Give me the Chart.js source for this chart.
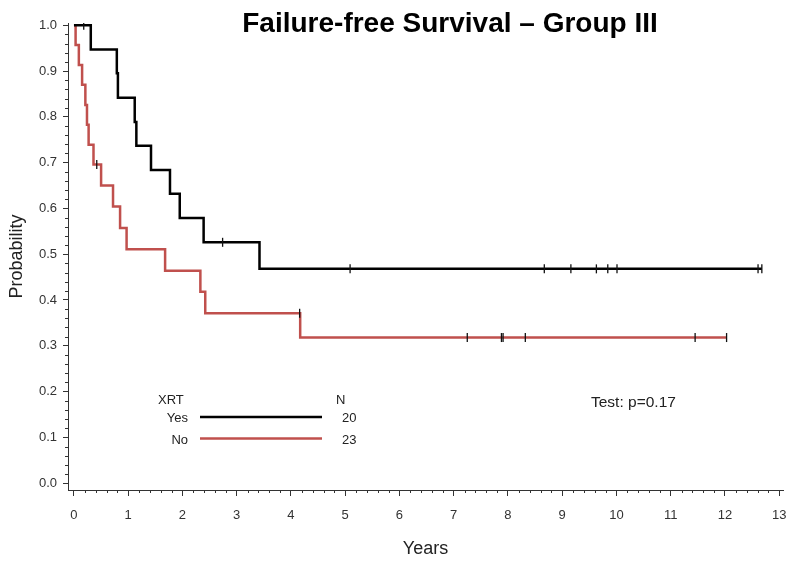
<!DOCTYPE html>
<html>
<head>
<meta charset="utf-8">
<script src="https://cdn.jsdelivr.net/npm/chart.js@4.4.1/dist/chart.umd.min.js"></script>
<style>
  body { margin: 0; background: #fff; }
</style>
</head>
<body>
<canvas id="km" width="800" height="570"></canvas>
<script>
// Kaplan-Meier
const yesTimes = [0, 0.31, 0.79, 0.81, 1.12, 1.15, 1.42, 1.77, 1.95, 2.39, 3.42, 12.68];
const yesSurv  = [1, 0.947, 0.895, 0.842, 0.789, 0.737, 0.684, 0.632, 0.579, 0.526, 0.468, 0.468];
const yesCensored = [0.18, 2.74, 5.09, 8.67, 9.16, 9.63, 9.84, 10.01, 12.61, 12.68];

const noTimes = [0, 0.03, 0.09, 0.15, 0.21, 0.24, 0.27, 0.36, 0.50, 0.72, 0.85, 0.97, 1.68, 2.33, 2.42, 4.17, 12.03];
const noSurv  = [1, 0.957, 0.913, 0.870, 0.826, 0.783, 0.739, 0.696, 0.650, 0.604, 0.557, 0.511, 0.464, 0.418, 0.371, 0.318, 0.318];
const noCensored = [0.42, 4.16, 7.25, 7.88, 7.91, 8.32, 11.45, 12.03];

const xTicks = [0, 1, 2, 3, 4, 5, 6, 7, 8, 9, 10, 11, 12, 13];
const yTicks = [0, 0.1, 0.2, 0.3, 0.4, 0.5, 0.6, 0.7, 0.8, 0.9, 1.0];

const groups = ['Yes', 'No'];
const groupN = [20, 23];

const FONT = '"Liberation Sans", Arial, sans-serif';
const RED = '#c0504d';

function toPoints(times, surv) {
    return times.map((t, i) => ({x: t, y: surv[i]}));
}

// survival level at a censor time (step function)
function censorPoints(cens, times, surv) {
    return cens.map(t => {
        let s = surv[0];
        times.forEach((tt, i) => { if (tt <= t) s = surv[i]; });
        return {x: t, y: s};
    });
}

// title, legend table, p-value, minor ticks
const decor = {
    id: 'decor',
    afterDraw(chart) {
        const c = chart.ctx;
        const xs = chart.scales.x, ys = chart.scales.y;
        c.save();

        // minor ticks
        c.strokeStyle = '#333';
        c.lineWidth = 1;
        c.beginPath();
        for (let i = 0; i <= 65; i++) {
            if (i % 5 === 0) continue;
            const px = Math.round(xs.getPixelForValue(i * 0.2)) + 0.5;
            c.moveTo(px, xs.top);
            c.lineTo(px, xs.top + 3);
        }
        for (let i = 0; i <= 50; i++) {
            if (i % 5 === 0) continue;
            const py = Math.round(ys.getPixelForValue(i * 0.02)) + 0.5;
            c.moveTo(ys.right, py);
            c.lineTo(ys.right - 3, py);
        }
        c.stroke();

        // title
        c.fillStyle = '#000';
        c.font = 'bold 28px ' + FONT;
        c.textAlign = 'center';
        c.textBaseline = 'alphabetic';
        c.fillText('Failure-free Survival \u2013 Group III', 450, 32);

        // legend table
        c.fillStyle = '#222';
        c.font = '13px ' + FONT;
        c.textAlign = 'left';
        c.fillText('XRT', 158, 404);
        c.fillText('N', 336, 404);
        const colors = ['#000', RED];
        groups.forEach((g, i) => {
            const y = 417 + i * 21.5;
            c.textAlign = 'right';
            c.fillStyle = '#222';
            c.fillText(g, 188, y + 5);
            c.textAlign = 'left';
            c.fillText(String(groupN[i]), 342, y + 5);
            c.strokeStyle = colors[i];
            c.lineWidth = 2.5;
            c.beginPath();
            c.moveTo(200, y);
            c.lineTo(322, y);
            c.stroke();
        });

        c.font = '15.5px ' + FONT;
        c.fillStyle = '#222';
        c.textAlign = 'left';
        c.fillText('Test: p=0.17', 591, 407);
        c.restore();
    }
};

const censorStyle = {
    type: 'scatter',
    pointStyle: 'line',
    rotation: 90,
    pointRadius: 4.5,
    pointBorderWidth: 1.3,
    borderColor: '#111',
    pointBorderColor: '#111',
    showLine: false
};

new Chart(document.getElementById('km'), {
    type: 'line',
    data: {
        datasets: [
            Object.assign({label: 'Yes censored', data: censorPoints(yesCensored, yesTimes, yesSurv)}, censorStyle),
            Object.assign({label: 'No censored', data: censorPoints(noCensored, noTimes, noSurv)}, censorStyle),
            {
                label: groups[0],
                data: toPoints(yesTimes, yesSurv),
                stepped: true,
                borderColor: '#000',
                borderWidth: 2.5,
                borderJoinStyle: 'miter',
                pointRadius: 0,
                fill: false
            },
            {
                label: groups[1],
                data: toPoints(noTimes, noSurv),
                stepped: true,
                borderColor: RED,
                borderWidth: 2.5,
                borderJoinStyle: 'miter',
                pointRadius: 0,
                fill: false
            }
        ]
    },
    options: {
        responsive: false,
        animation: false,
        layout: {padding: {top: 23, right: 17, bottom: 0, left: 0}},
        plugins: {
            legend: {display: false},
            title: {display: false},
            tooltip: {enabled: false}
        },
        scales: {
            x: {
                type: 'linear',
                min: -0.11,
                max: 13.07,
                afterBuildTicks: axis => { axis.ticks = xTicks.map(v => ({value: v})); },
                afterFit: axis => { axis.height = 80; },
                ticks: {
                    color: '#333',
                    font: {family: FONT, size: 13},
                    padding: 12,
                    maxRotation: 0,
                    autoSkip: false
                },
                grid: {drawOnChartArea: false, drawTicks: true, tickLength: 6, color: '#333'},
                border: {color: '#333', width: 1},
                title: {
                    display: true,
                    text: 'Years',
                    color: '#222',
                    font: {family: FONT, size: 18},
                    padding: {bottom: 10}
                }
            },
            y: {
                type: 'linear',
                min: -0.015,
                max: 1.005,
                afterBuildTicks: axis => { axis.ticks = yTicks.map(v => ({value: v})); },
                afterFit: axis => { axis.width = 68; },
                ticks: {
                    color: '#333',
                    font: {family: FONT, size: 13},
                    padding: 6,
                    callback: v => v.toFixed(1)
                },
                grid: {drawOnChartArea: false, drawTicks: true, tickLength: 5, color: '#333'},
                border: {color: '#333', width: 1},
                title: {
                    display: true,
                    text: 'Probability',
                    color: '#222',
                    font: {family: FONT, size: 18},
                    padding: {top: 6}
                }
            }
        }
    },
    plugins: [decor]
});
</script>
</body>
</html>
